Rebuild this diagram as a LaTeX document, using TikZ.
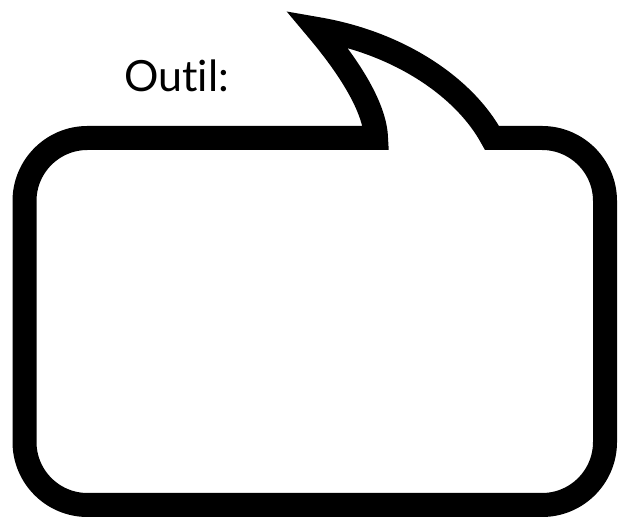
\documentclass[tikz,border=0pt]{standalone}
\usepackage{fontspec}
\setmainfont{Lato}[Ligatures=NoCommon]
\begin{document}
\begin{tikzpicture}[x=1pt, y=1pt]
  \useasboundingbox (0,0) rectangle (631,518);
  % speech bubble
  \draw[line width=24pt, line join=miter, fill=white]
    (376,380) -- (87.5,380) arc[start angle=90, end angle=180, radius=63]
    -- (24.5,76) arc[start angle=180, end angle=270, radius=63]
    -- (542,13) arc[start angle=270, end angle=360, radius=63]
    -- (605,317) arc[start angle=0, end angle=90, radius=63]
    -- (492,380) .. controls (465,430) and (400,475) .. (317,489)
    .. controls (350,450) and (375,410) .. cycle;
  \node[anchor=base west, inner sep=0pt, font=\fontsize{43}{43}\selectfont] (label) at (124,426) {Outil:};
\end{tikzpicture}
\end{document}
